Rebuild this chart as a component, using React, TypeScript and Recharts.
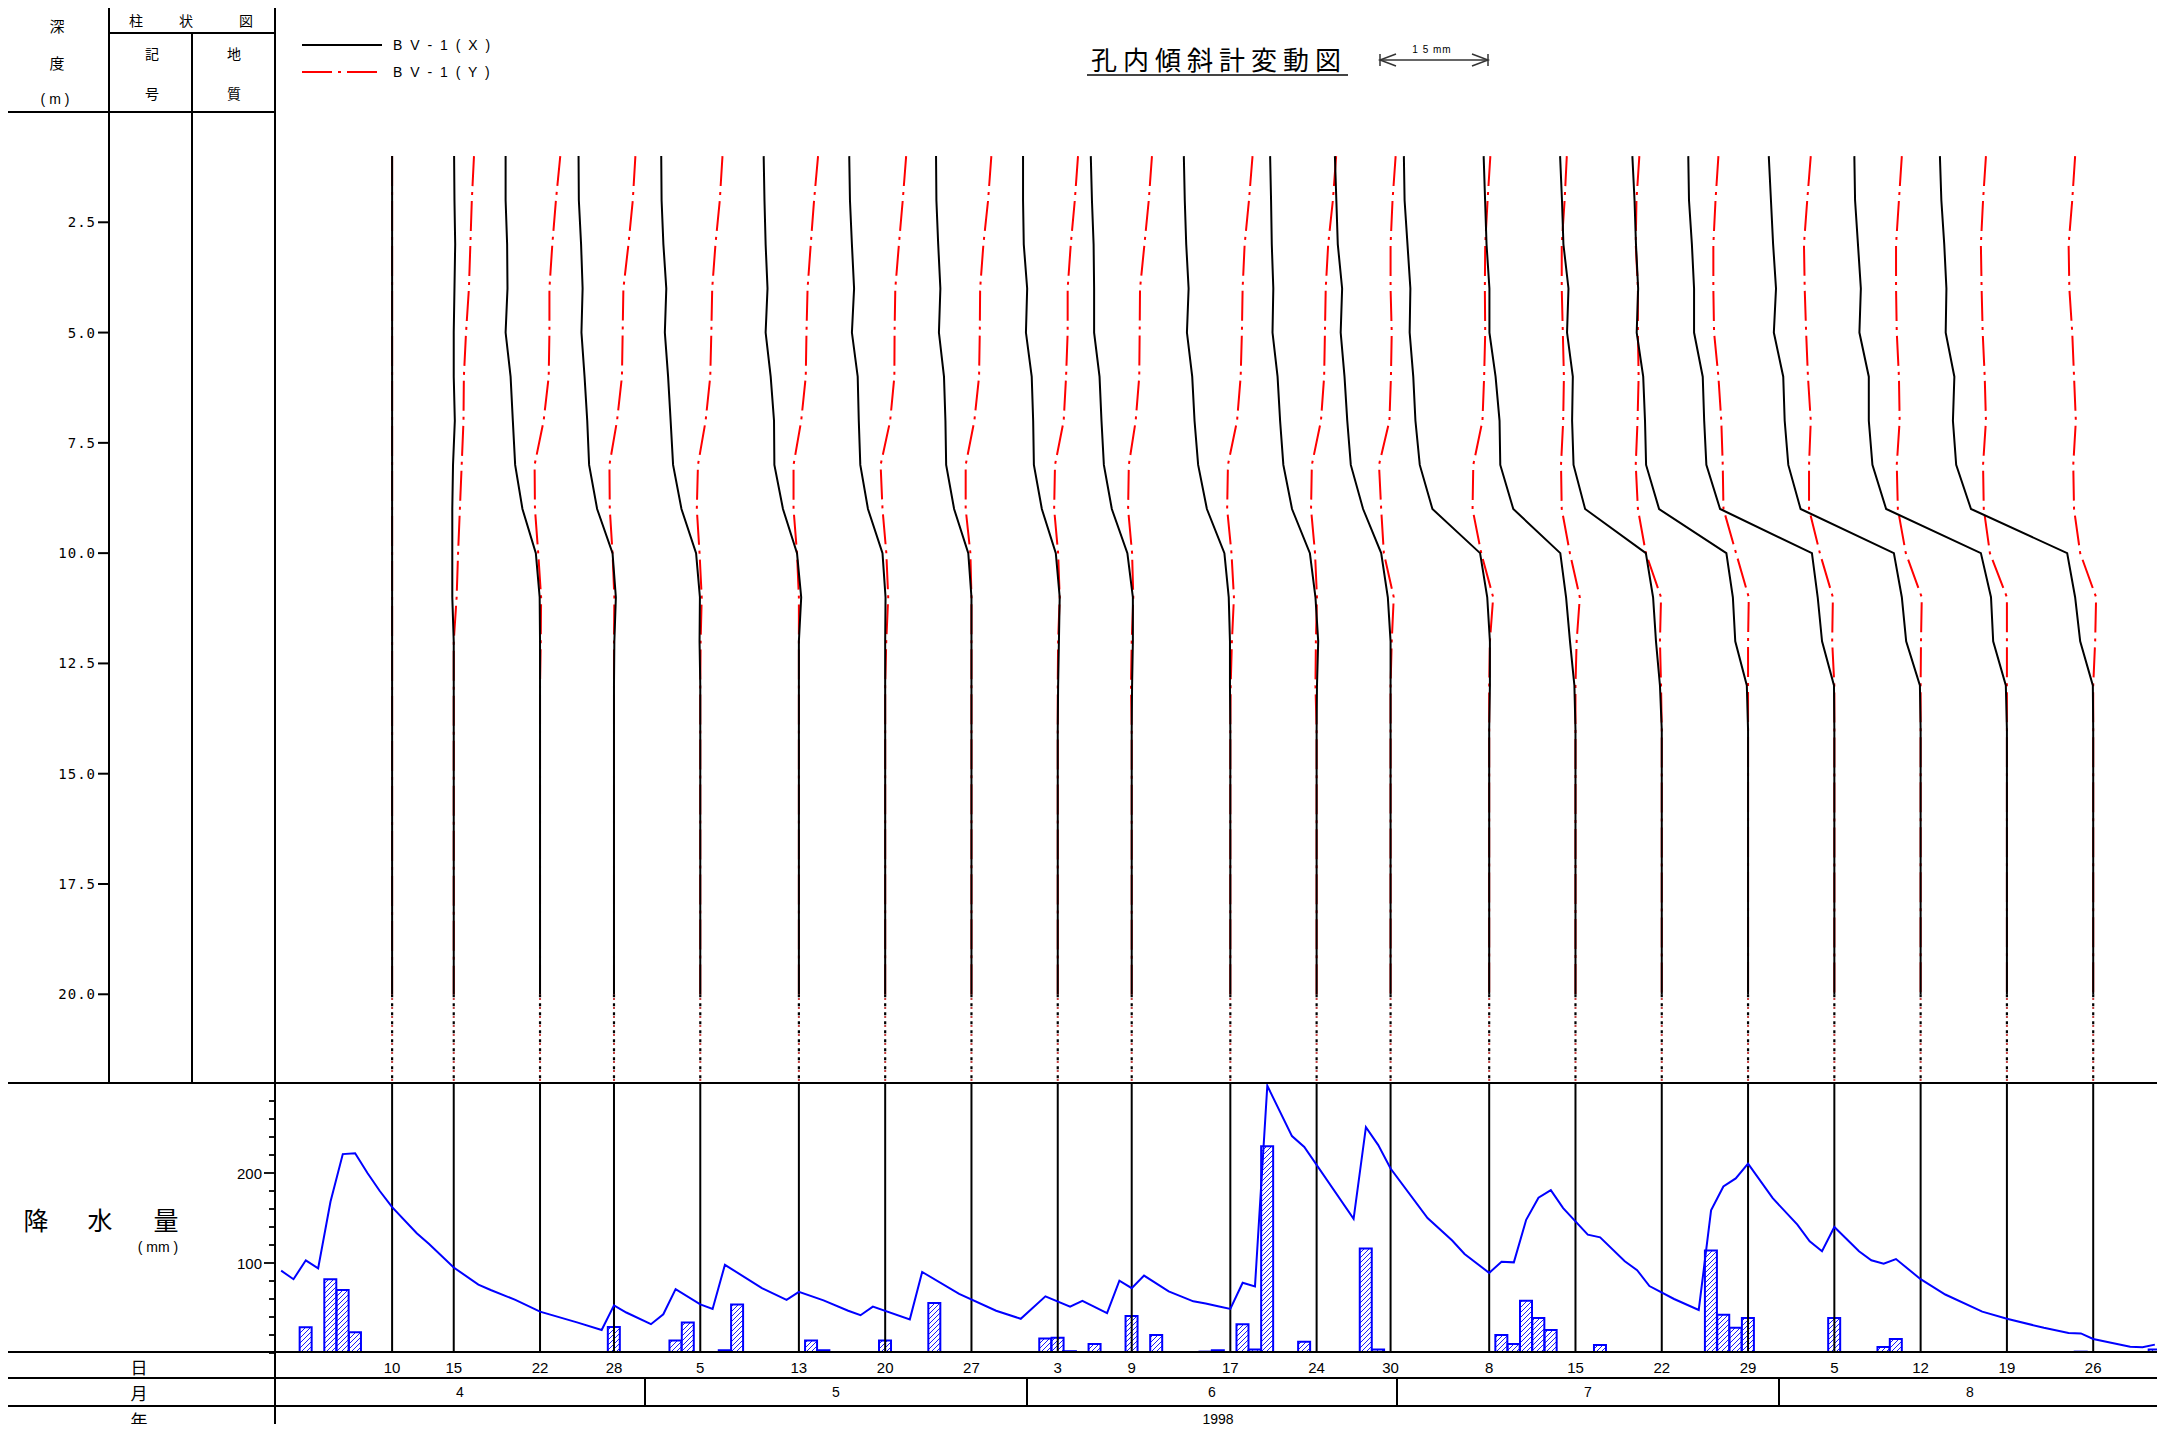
import React from 'react';
import {
  ScatterChart,
  Scatter,
  ComposedChart,
  Bar,
  Line,
  XAxis,
  YAxis,
  ReferenceLine
} from 'recharts';

// 観測日 (month/day), 1998
const surveyDates = [
  '4/10', '4/15', '4/22', '4/28', '5/5', '5/13', '5/20', '5/27', '6/3', '6/9', '6/17',
  '6/24', '6/30', '7/8', '7/15', '7/22', '7/29', '8/5', '8/12', '8/19', '8/26'
];

// reading depths (m)
const depths = [1, 2, 3, 4, 5, 6, 7, 8, 9, 10, 11, 12, 13, 14, 15, 16, 17, 18, 19, 20];

// BV-1 (X) cumulative displacement, mm, one row per survey date (depth 1..20)
const dispX = [
  [0, 0, 0, 0, 0, 0, 0, 0, 0, 0, 0, 0, 0, 0, 0, 0, 0, 0, 0, 0],
  [0.05, 0.1, 0.2, 0.1, 0, 0, 0.15, -0.1, -0.2, -0.2, -0.2, 0, 0, 0, 0, 0, 0, 0, 0, 0],
  [-4.76, -4.76, -4.55, -4.5, -4.76, -4.07, -3.76, -3.44, -2.43, -0.58, -0.05, 0, 0, 0, 0, 0, 0, 0, 0, 0],
  [-4.9, -4.86, -4.55, -4.34, -4.5, -4.07, -3.7, -3.44, -2.33, -0.2, 0.26, 0.05, 0, 0, 0, 0, 0, 0, 0, 0],
  [-5.4, -5.35, -5.1, -4.7, -4.9, -4.45, -4.1, -3.76, -2.6, -0.58, -0.05, -0.1, 0, 0, 0, 0, 0, 0, 0, 0],
  [-4.87, -4.76, -4.6, -4.34, -4.6, -3.9, -3.44, -3.39, -2.2, -0.26, 0.32, 0, 0, 0, 0, 0, 0, 0, 0, 0],
  [-4.97, -4.87, -4.6, -4.3, -4.6, -3.8, -3.65, -3.44, -2.38, -0.37, 0.05, 0, 0, 0, 0, 0, 0, 0, 0, 0],
  [-4.9, -4.85, -4.6, -4.3, -4.5, -3.8, -3.6, -3.5, -2.4, -0.44, 0, 0, 0, 0, 0, 0, 0, 0, 0, 0],
  [-4.8, -4.8, -4.7, -4.23, -4.4, -3.6, -3.4, -3.3, -2.2, -0.27, 0.27, 0.16, 0.05, 0, 0, 0, 0, 0, 0, 0],
  [-5.66, -5.5, -5.27, -5.2, -5.2, -4.45, -4.18, -3.85, -2.75, -0.6, 0.16, 0.16, 0.05, 0, 0, 0, 0, 0, 0, 0],
  [-6.43, -6.3, -6.1, -5.77, -6.0, -5.27, -4.95, -4.45, -3.24, -0.82, -0.22, -0.05, -0.05, 0, 0, 0, 0, 0, 0, 0],
  [-6.43, -6.3, -6.2, -5.99, -6.1, -5.4, -5.05, -4.6, -3.4, -0.93, -0.16, 0.22, 0.05, 0, 0, 0, 0, 0, 0, 0],
  [-7.7, -7.5, -7.3, -6.7, -6.9, -6.37, -5.99, -5.5, -3.8, -1.3, -0.38, 0, 0, 0, 0, 0, 0, 0, 0, 0],
  [-11.8, -11.7, -11.3, -10.9, -11.0, -10.5, -10.2, -9.6, -7.85, -1.26, -0.27, 0.1, 0.1, 0, 0, 0, 0, 0, 0, 0],
  [-12.7, -12.5, -12.3, -11.9, -11.9, -11.05, -10.5, -10.4, -8.6, -2.1, -1.3, -0.76, -0.15, 0, 0, 0, 0, 0, 0, 0],
  [-14.06, -13.8, -13.6, -12.9, -13.1, -12.3, -12.4, -12.2, -10.6, -2.2, -1.2, -0.8, -0.25, 0, 0, 0, 0, 0, 0, 0],
  [-16.0, -15.7, -15.5, -15.2, -15.4, -14.5, -14.25, -14.1, -12.3, -3.0, -2.1, -1.77, -0.17, 0, 0, 0, 0, 0, 0, 0],
  [-20.2, -20.1, -19.7, -19.4, -19.4, -18.2, -18.0, -17.7, -15.8, -3.1, -2.3, -1.7, -0.05, 0, 0, 0, 0, 0, 0, 0],
  [-21.0, -20.7, -20.4, -20.0, -20.3, -19.0, -18.8, -18.3, -16.6, -3.7, -2.6, -2.0, -0.1, 0, 0, 0, 0, 0, 0, 0],
  [-21.1, -21.0, -20.6, -20.2, -20.4, -19.1, -19.1, -18.6, -16.7, -3.6, -2.2, -1.9, -0.15, 0, 0, 0, 0, 0, 0, 0],
  [-21.2, -21.0, -20.6, -20.3, -20.4, -19.2, -19.4, -18.95, -16.9, -3.6, -2.5, -1.8, -0.05, 0, 0, 0, 0, 0, 0, 0]
];

// BV-1 (Y) cumulative displacement, mm
const dispY = [
  [0, 0, 0, 0, 0, 0, 0, 0, 0, 0, 0, 0, 0, 0, 0, 0, 0, 0, 0, 0],
  [2.8, 2.5, 2.3, 2.1, 1.7, 1.4, 1.35, 1.1, 0.85, 0.6, 0.4, 0, 0, 0, 0, 0, 0, 0, 0, 0],
  [2.8, 2.2, 1.7, 1.3, 1.3, 1.2, 0.5, -0.75, -0.7, -0.25, 0.15, 0.1, 0, 0, 0, 0, 0, 0, 0, 0],
  [2.96, 2.6, 2.0, 1.3, 1.2, 1.1, 0.42, -0.63, -0.58, -0.2, 0.05, 0, 0, 0, 0, 0, 0, 0, 0, 0],
  [3.07, 2.7, 2.1, 1.65, 1.53, 1.38, 0.74, -0.32, -0.48, -0.1, 0.2, 0.05, 0, 0, 0, 0, 0, 0, 0, 0],
  [2.65, 2.1, 1.64, 1.2, 1.05, 0.95, 0.32, -0.74, -0.74, -0.26, 0, 0, 0, 0, 0, 0, 0, 0, 0, 0],
  [2.9, 2.43, 1.9, 1.4, 1.3, 1.27, 0.69, -0.63, -0.37, 0.16, 0.42, 0.15, 0, 0, 0, 0, 0, 0, 0, 0],
  [2.75, 2.3, 1.65, 1.2, 1.15, 1.05, 0.4, -0.8, -0.8, -0.15, 0, 0, 0, 0, 0, 0, 0, 0, 0, 0],
  [2.8, 2.36, 1.8, 1.37, 1.37, 1.15, 0.82, -0.38, -0.5, 0.05, 0.27, 0.05, 0, 0, 0, 0, 0, 0, 0, 0],
  [2.8, 2.36, 1.76, 1.15, 1.1, 1.04, 0.55, -0.4, -0.5, 0.05, 0.22, 0, -0.1, 0, 0, 0, 0, 0, 0, 0],
  [3.07, 2.58, 1.98, 1.7, 1.6, 1.43, 0.93, -0.33, -0.44, 0.16, 0.5, 0.22, 0.05, 0, 0, 0, 0, 0, 0, 0],
  [2.7, 2.25, 1.6, 1.26, 1.15, 1.04, 0.6, -0.66, -0.77, -0.22, 0.05, -0.1, -0.16, 0, 0, 0, 0, 0, 0, 0],
  [0.7, 0.27, 0, 0, 0.16, 0.05, -0.16, -1.6, -1.3, -0.93, 0.44, 0.16, 0, 0, 0, 0, 0, 0, 0, 0],
  [0.16, -0.22, -0.55, -0.6, -0.55, -0.7, -0.93, -2.2, -2.3, -1.1, 0.55, 0.1, 0, 0, 0, 0, 0, 0, 0, 0],
  [-1.2, -1.5, -1.9, -1.9, -1.75, -1.6, -1.7, -2.0, -1.9, -0.77, 0.6, 0.16, 0, 0, 0, 0, 0, 0, 0, 0],
  [-3.1, -3.5, -3.6, -3.3, -3.3, -3.2, -3.35, -3.6, -3.3, -2.2, -0.1, -0.25, -0.1, 0, 0, 0, 0, 0, 0, 0],
  [-4.1, -4.5, -4.8, -4.8, -4.7, -4.1, -3.7, -3.5, -3.4, -1.66, 0.1, 0, 0, 0, 0, 0, 0, 0, 0, 0],
  [-3.26, -3.75, -4.2, -4.1, -3.9, -3.65, -3.26, -3.5, -3.5, -2.0, -0.2, -0.3, 0, 0, 0, 0, 0, 0, 0, 0],
  [-2.6, -3.0, -3.4, -3.4, -3.3, -3.0, -2.9, -3.3, -3.15, -2.05, 0.16, 0.05, 0, 0, 0, 0, 0, 0, 0, 0],
  [-2.9, -3.3, -3.6, -3.5, -3.35, -3.07, -2.9, -3.3, -3.2, -2.35, 0, 0, 0, 0, 0, 0, 0, 0, 0, 0],
  [-2.5, -2.9, -3.4, -3.3, -2.9, -2.65, -2.4, -2.76, -2.65, -1.8, 0.4, 0.27, 0, 0, 0, 0, 0, 0, 0, 0]
];

// daily rainfall (mm) - day index from 4/1
const rainDays = [2, 3, 4, 5, 6, 15, 18, 27, 32, 33, 36, 37, 38, 42, 43, 44, 45, 49, 53, 54, 62, 63, 64, 66, 69, 71,
  74, 75, 76, 78, 79, 80, 82, 83, 88, 89, 97, 99, 100, 101, 102, 103, 107, 116, 117, 118, 119, 125, 126, 130, 131, 146, 152];
const rainMm = [28.5, 1, 82, 70, 23, 1, 1, 29, 14, 34, 3, 54, 1, 1, 14, 3, 1, 14, 55.6, 1, 16, 17, 2, 10, 41, 20,
  1, 1.5, 3, 32, 4, 229.6, 1, 12.6, 116, 4, 1, 20, 10, 58, 39, 25.6, 9, 114, 42.6, 28, 39, 1, 39, 6.7, 15.6, 1.5, 4];

// effective rainfall (mm)
const effDays = [0, 1, 2, 3, 4, 5, 6, 7, 8, 9, 11, 12, 14, 16, 17, 19, 21, 24, 26, 27, 28, 30, 31, 32, 34, 35, 36, 39, 41, 42,
  44, 46, 47, 48, 51, 52, 55, 58, 60, 62, 64, 65, 67, 68, 69, 70, 72, 74, 75, 76, 77, 78, 79, 80, 82, 83, 87, 88, 89, 90,
  93, 95, 96, 98, 99, 100, 101, 102, 103, 104, 106, 107, 109, 110, 111, 113, 115, 116, 117, 118, 119, 121, 123, 124, 125,
  126, 128, 129, 130, 131, 133, 135, 138, 140, 143, 145, 146, 147, 150, 151, 152];
const effMm = [91.5, 82, 103, 94, 168, 221, 222, 200, 180, 162, 133, 121, 95, 76, 70, 59, 46, 34, 25.6, 53, 45, 32, 43, 71,
  54, 49, 98, 72, 59, 68, 58.5, 47, 42, 51.5, 37.4, 90, 65.6, 47, 38, 63, 51.5, 58, 44.4, 80.4, 72, 86, 68.5, 57.4, 55, 52,
  49, 78, 74, 297, 241, 229, 149, 251, 231, 205, 150, 125, 110, 89, 101.5, 100.7, 148, 172.6, 181, 161, 131.5, 128.5, 102,
  92, 74.4, 60, 47.8, 158.5, 185, 194, 210.4, 172, 142.6, 124, 113, 140, 113, 103, 99.3, 104.4, 82, 65, 46, 38, 28, 22.2,
  21.8, 15.6, 7, 6.3, 9.3];

const months = ['4', '5', '6', '7', '8'];
const monthDays = [30, 31, 30, 31, 31];
const depthTicks = [2.5, 5, 7.5, 10, 12.5, 15, 17.5, 20];
const rainTicks = [0, 20, 40, 60, 80, 100, 120, 140, 160, 180, 200, 220, 240, 260, 280];

const TOTAL_DAYS = 153;
const DAY_PER_MM = 0.5866; // 15 mm on the displacement scale = 8.8 days on the time axis

// 1. survey positions on the time axis (day centre)
const monthStart: Record<string, number> = {};
months.reduce((acc, m, i) => {
  monthStart[m] = acc;
  return acc + monthDays[i];
}, 0);
const dayIndex = (md: string) => {
  const [m, d] = md.split('/');
  return monthStart[m] + Number(d) - 1;
};
const surveyX = surveyDates.map((md) => dayIndex(md) + 0.5);

// 2. profile polylines
const profiles = surveyDates.map((md, i) => {
  const base = surveyX[i];
  return {
    key: md,
    x: depths.map((z, k) => ({ x: base + dispX[i][k] * DAY_PER_MM, y: z })),
    y: depths.map((z, k) => ({ x: base + dispY[i][k] * DAY_PER_MM, y: z })),
    tail: [{ x: base, y: 20 }, { x: base, y: 22 }]
  };
});

// 3. rainfall table for the composed chart
const rainRows = Array.from({ length: TOTAL_DAYS }, (_, d) => {
  const r = rainDays.indexOf(d);
  const e = effDays.indexOf(d);
  return { x: d + 0.5, rain: r >= 0 ? rainMm[r] : null, eff: e >= 0 ? effMm[e] : null };
});

const SANS = "'Liberation Sans', Arial, sans-serif";
const JP = "'Noto Sans CJK JP', 'Noto Sans CJK SC', sans-serif";
const noDot = () => <g />;

const DayTick = ({ x, y, payload }: any) => {
  const i = surveyX.indexOf(payload.value);
  return (
    <text x={x} y={y + 14} textAnchor="middle" dominantBaseline="central" fontSize={15} fontFamily={SANS} fill="#000">
      {i >= 0 ? surveyDates[i].split('/')[1] : ''}
    </text>
  );
};

const RainTick = ({ x, y, payload }: any) => {
  const major = payload.value % 100 === 0 && payload.value > 0;
  return (
    <g>
      <line x1={x - (major ? 11 : 6)} x2={x} y1={y} y2={y} stroke="#000" strokeWidth={1.8} />
      {major && (
        <text x={x - 13} y={y} textAnchor="end" dominantBaseline="central" fontSize={15} fontFamily={SANS} fill="#000">
          {payload.value}
        </text>
      )}
    </g>
  );
};

const DepthTick = ({ x, y, payload }: any) => (
  <g>
    <line x1={x - 11} x2={x} y1={y} y2={y} stroke="#000" strokeWidth={2} />
    <text x={x - 13} y={y} textAnchor="end" dominantBaseline="central" fontSize={14} letterSpacing={1}
      fontFamily="'DejaVu Sans Mono', monospace" fill="#000">
      {payload.value.toFixed(1)}
    </text>
  </g>
);

// frame lines: [x1, y1, x2, y2]
const FRAME: number[][] = [
  [6, 6, 2161, 6], [6, 6, 6, 1440], [2161, 6, 2161, 1440], [275, 6, 275, 1440],
  [109, 6, 109, 1082.5], [192, 33, 192, 1082.5], [109, 33, 275, 33], [6, 112, 275, 112],
  [6, 1082.5, 2161, 1082.5], [6, 1352, 2161, 1352], [6, 1378, 2161, 1378], [6, 1405.5, 2161, 1405.5]
];

const Label = ({ x, y, size, text, family = JP, spacing = 0 }: any) => (
  <div
    style={{
      position: 'absolute', left: x, top: y, transform: 'translate(-50%, -50%)', fontSize: size,
      fontFamily: family, letterSpacing: spacing, whiteSpace: 'pre', lineHeight: 1, color: '#000'
    }}
  >
    {text}
  </div>
);

export default function App() {
  const plotL = 275;
  const plotW = 2161 - 275;
  const monthCells = monthDays.map((n, i) => ({
    m: months[i],
    left: plotL + (monthStart[months[i]] / TOTAL_DAYS) * plotW,
    width: (n / TOTAL_DAYS) * plotW
  }));

  return (
    <div style={{ position: 'relative', width: 2165, height: 1432, margin: -8, overflow: 'hidden', background: '#fff' }}>
      {/* depth axis */}
      <div style={{ position: 'absolute', left: 0, top: 112 }}>
        <ScatterChart width={110} height={970.5} margin={{ top: 0, right: 0, bottom: 0, left: 0 }}>
          <XAxis type="number" dataKey="x" domain={[0, 1]} hide />
          <YAxis
            type="number" dataKey="y" domain={[0, 22]} reversed ticks={depthTicks} interval={0}
            width={109} axisLine={false} tickLine={false} tickSize={0} tickMargin={0} tick={<DepthTick />}
          />
          <Scatter data={depthTicks.map((d) => ({ x: 0, y: d }))} shape={noDot} isAnimationActive={false} />
        </ScatterChart>
      </div>

      {/* inclinometer profiles */}
      <div style={{ position: 'absolute', left: plotL, top: 112 }}>
        <ScatterChart width={plotW} height={970.5} margin={{ top: 0, right: 0, bottom: 0, left: 0 }}>
          <XAxis type="number" dataKey="x" domain={[0, TOTAL_DAYS]} allowDataOverflow hide />
          <YAxis type="number" dataKey="y" domain={[0, 22]} reversed allowDataOverflow hide />
          {profiles.flatMap((p) => [
            <Scatter key={p.key + 'tr'} data={p.tail} shape={noDot} isAnimationActive={false}
              line={{ stroke: '#b00000', strokeWidth: 2, strokeDasharray: '0 4 1.5 3.5' }} />,
            <Scatter key={p.key + 'tb'} data={p.tail} shape={noDot} isAnimationActive={false}
              line={{ stroke: '#000', strokeWidth: 2.2, strokeDasharray: '3 6' }} />,
            <Scatter key={p.key + 'y'} data={p.y} shape={noDot} isAnimationActive={false}
              line={{ stroke: '#ff0000', strokeWidth: 2, strokeDasharray: '30 6 3 6' }} />,
            <Scatter key={p.key + 'x'} data={p.x} shape={noDot} isAnimationActive={false}
              line={{ stroke: '#000', strokeWidth: 2 }} />
          ])}
        </ScatterChart>
      </div>

      {/* rainfall */}
      <div style={{ position: 'absolute', left: plotL - 60, top: 1082.5 }}>
        <ComposedChart width={plotW + 60} height={296.5} data={rainRows} margin={{ top: 0, right: 0, bottom: 0, left: 0 }}>
          <defs>
            <pattern id="hatch" patternUnits="userSpaceOnUse" width={5} height={5}>
              <rect width={5} height={5} fill="#fff" />
              <path d="M0,5 L5,0 M-1,1 L1,-1 M4,6 L6,4" stroke="#0000ff" strokeWidth={0.9} />
            </pattern>
          </defs>
          <XAxis
            type="number" dataKey="x" domain={[0, TOTAL_DAYS]} allowDataOverflow ticks={surveyX} interval={0}
            height={26.5} axisLine={false} tickLine={false} tickSize={0} tickMargin={0} tick={<DayTick />}
          />
          <YAxis
            type="number" domain={[0, 300]} allowDataOverflow ticks={rainTicks} interval={0} width={60}
            axisLine={false} tickLine={false} tickSize={0} tickMargin={0} tick={<RainTick />}
          />
          {surveyX.map((x) => (
            <ReferenceLine key={x} x={x} stroke="#000" strokeWidth={2} />
          ))}
          <Bar dataKey="rain" barSize={12} fill="url(#hatch)" stroke="#0000ff" strokeWidth={2} isAnimationActive={false} />
          <Line dataKey="eff" type="linear" stroke="#0000ff" strokeWidth={2} dot={false} connectNulls isAnimationActive={false} />
        </ComposedChart>
      </div>

      {/* table frame */}
      {FRAME.map(([x1, y1, x2, y2], i) => (
        <div
          key={i}
          style={{
            position: 'absolute', background: '#000',
            left: Math.min(x1, x2) - 1, top: Math.min(y1, y2) - 1,
            width: Math.abs(x2 - x1) + 2, height: Math.abs(y2 - y1) + 2
          }}
        />
      ))}
      {monthCells.slice(1).map((c) => (
        <div key={c.m} style={{ position: 'absolute', background: '#000', left: c.left - 1, top: 1378, width: 2, height: 27.5 }} />
      ))}

      {/* header texts */}
      <Label x={57} y={25} size={15} text="深" />
      <Label x={57} y={62} size={15} text="度" />
      <Label x={55} y={99} size={14} text="( m )" family={SANS} />
      <Label x={136} y={20} size={14} text="柱" />
      <Label x={186} y={20} size={14} text="状" />
      <Label x={246} y={20} size={14} text="図" />
      <Label x={152} y={53} size={14} text="記" />
      <Label x={152} y={93} size={14} text="号" />
      <Label x={234} y={53} size={14} text="地" />
      <Label x={234} y={93} size={14} text="質" />
      <Label x={36} y={1219} size={25} text="降" />
      <Label x={100} y={1219} size={25} text="水" />
      <Label x={166} y={1219} size={25} text="量" />
      <Label x={158} y={1247} size={14} text="( mm )" family={SANS} />
      <Label x={139} y={1366} size={17} text="日" />
      <Label x={139} y={1392} size={17} text="月" />
      <Label x={139} y={1419} size={17} text="年" />
      {monthCells.map((c) => (
        <Label key={c.m} x={c.left + c.width / 2} y={1392} size={14} text={c.m} family={SANS} />
      ))}
      <Label x={plotL + plotW / 2} y={1419} size={14} text="1998" family={SANS} />

      {/* legend, title, displacement scale */}
      <svg width={2165} height={1432} style={{ position: 'absolute', left: 0, top: 0, pointerEvents: 'none' }}>
        <line x1={302} x2={382} y1={45} y2={45} stroke="#000" strokeWidth={2} />
        <text x={393} y={45} dominantBaseline="central" fontSize={14} letterSpacing={2} fontFamily={SANS}>B V - 1 ( X )</text>
        <line x1={302} x2={382} y1={72} y2={72} stroke="#ff0000" strokeWidth={2} strokeDasharray="30 6 3 6" />
        <text x={393} y={72} dominantBaseline="central" fontSize={14} letterSpacing={2} fontFamily={SANS}>B V - 1 ( Y )</text>

        <text x={1091} y={58} dominantBaseline="central" fontSize={26} letterSpacing={6} fontFamily={JP}>孔内傾斜計変動図</text>
        <line x1={1087} x2={1348} y1={75} y2={75} stroke="#444" strokeWidth={2} />

        <g stroke="#333" strokeWidth={1.5} fill="none">
          <line x1={1380} x2={1488} y1={60} y2={60} />
          <line x1={1380} x2={1380} y1={54} y2={66} />
          <line x1={1488} x2={1488} y1={54} y2={66} />
          <polyline points="1396,54 1380,60 1396,66" />
          <polyline points="1472,54 1488,60 1472,66" />
        </g>
        <text x={1432} y={49} textAnchor="middle" dominantBaseline="central" fontSize={10} letterSpacing={1} fontFamily={SANS}>1 5 mm</text>
      </svg>
    </div>
  );
}
